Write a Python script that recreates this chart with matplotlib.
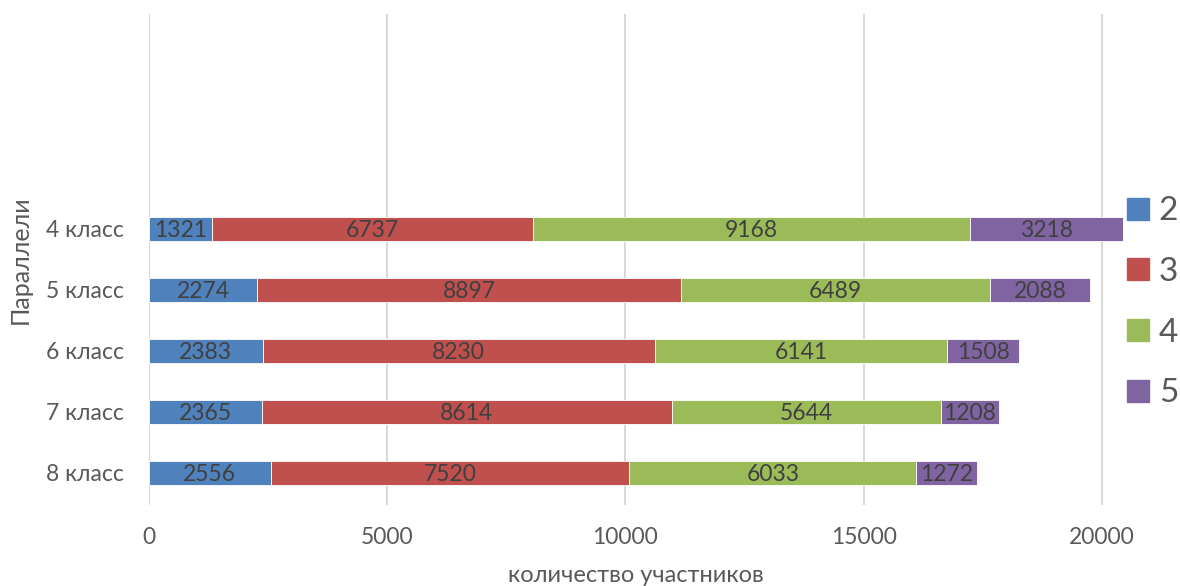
import numpy as np
import matplotlib.pyplot as plt
from matplotlib.patches import Patch

plt.rcParams['font.family'] = ['Lato', 'DejaVu Sans']

# data (bottom to top)
classes = ['8 класс', '7 класс', '6 класс', '5 класс', '4 класс']
grades = ['2', '3', '4', '5']
vals_2 = [2556, 2365, 2383, 2274, 1321]
vals_3 = [7520, 8614, 8230, 8897, 6737]
vals_4 = [6033, 5644, 6141, 6489, 9168]
vals_5 = [1272, 1208, 1508, 2088, 3218]
colors = ['#4F81BD', '#C0504D', '#9BBB59', '#8064A2']

series = [vals_2, vals_3, vals_4, vals_5]

fig = plt.figure(figsize=(11.8, 5.86), dpi=100)
ax = fig.add_axes([149/1180, 1-505/586, (1123-149)/1180, (505-14)/586])

y = np.arange(len(classes))
left = np.zeros(len(classes))
for vals, c in zip(series, colors):
    vals = np.array(vals)
    ax.barh(y, vals, left=left, height=0.4, color=c, edgecolor='white', linewidth=0.6, zorder=3)
    for yi, l, v in zip(y, left, vals):
        ax.text(l + v/2, yi, str(v), ha='center', va='center_baseline', fontsize=16.5,
                color='#404040', zorder=4)
    left = left + vals

ax.set_xlim(0, 20444)
ax.set_ylim(-0.525, 7.52)
ax.set_xticks([0, 5000, 10000, 15000, 20000])
ax.set_yticks(y)
ax.set_yticklabels(classes)
ax.tick_params(axis='both', length=0, labelsize=16.5, colors='#595959')
ax.tick_params(axis='x', pad=16)
ax.tick_params(axis='y', pad=18)
ax.grid(axis='x', color='#D9D9D9', linewidth=1.5, zorder=0)
for s in ax.spines.values():
    s.set_visible(False)

ax.set_xlabel('количество участников', fontsize=17, color='#595959', labelpad=12)
ax.set_ylabel('Параллели', fontsize=18, color='#595959', labelpad=10)

handles = [Patch(color=c) for c in colors]
fig.legend(handles, grades, loc='center left', bbox_to_anchor=(1127/1180, 0.484),
           frameon=False, fontsize=24, labelspacing=0.92, handlelength=0.65,
           handleheight=0.65, handletextpad=0.3, borderpad=0, borderaxespad=0,
           labelcolor='#595959')

fig.savefig('out.png', dpi=100)
